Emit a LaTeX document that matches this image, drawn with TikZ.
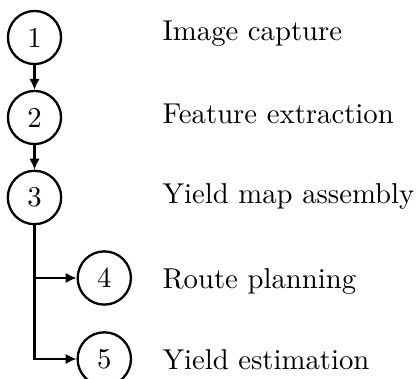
\documentclass[tikz,border=0pt]{standalone}
\usetikzlibrary{arrows.meta}
\begin{document}
\begin{tikzpicture}[x=0.348pt, y=-0.348pt,
  stage/.style={circle, draw, thick, inner sep=0.36em},
  caption/.style={anchor=base west, inner sep=0pt},
  flow/.style={thick, -{Latex[length=3.8pt, width=3.7pt]}}]
\useasboundingbox (0,0) rectangle (417,379);
% numbered stages
\node[stage] (n1) at (34.5,37.5) {1};
\node[stage] (n2) at (34.5,117.5) {2};
\node[stage] (n3) at (34.5,197.5) {3};
\node[stage] (n4) at (104.3,278) {4};
\node[stage] (n5) at (104.3,359) {5};
% stage descriptions
\node[caption] (t1) at (162,40.7) {Image capture};
\node[caption] (t2) at (162,123.3) {Feature extraction};
\node[caption] (t3) at (162,203.3) {Yield map assembly};
\node[caption] (t4) at (162,288.3) {Route planning};
\node[caption] (t5) at (162,370) {Yield estimation};
% connectors
\draw[flow] (n1) -- (n2);
\draw[flow] (n2) -- (n3);
\draw[flow] (n3.south) |- (n4.west);
\draw[flow] (n3.south) |- (n5.west);
\end{tikzpicture}
\end{document}
